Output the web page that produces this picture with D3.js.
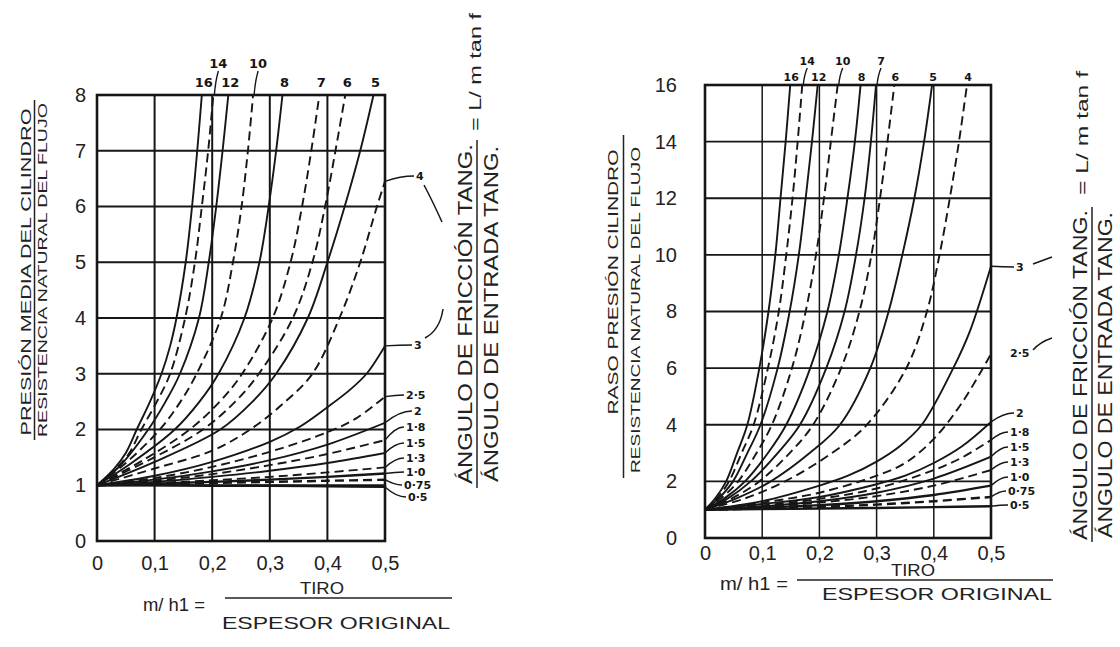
<!DOCTYPE html>
<html><head><meta charset="utf-8">
<script src="https://cdn.jsdelivr.net/npm/d3@7"></script>
<style>
html,body{margin:0;padding:0;background:#fff;}
svg{display:block;font-family:"Liberation Sans",Arial,sans-serif;}
</style></head><body>
<svg id="chart" width="1120" height="647"></svg>
<script>
// ---------- data ----------
const xTicks = [0, 0.1, 0.2, 0.3, 0.4, 0.5];
const xTickLabels = ["0", "0,1", "0,2", "0,3", "0,4", "0,5"];
const meanTicks = [0, 1, 2, 3, 4, 5, 6, 7, 8];
const peakTicks = [0, 2, 4, 6, 8, 10, 12, 14, 16];

// friction / entry angle ratio for each curve
const curveParams = ["16","14","12","10","8","7","6","5","4","3","2·5","2","1·8","1·5","1·3","1·0","0·75","0·5"];
const meanDashed = [0,1,0,1,0,1,1,0,1,0,1,0,1,0,1,0,1,0];
const peakDashed = [0,1,0,1,0,0,1,0,1,0,1,0,1,0,1,0,1,0];

// mean roll pressure / flow stress vs draft ratio  [m/h1, p]
const m16 = [[0,1],[0.03,1.3],[0.05,1.58],[0.069,2],[0.092,2.5],[0.112,3],[0.127,3.5],[0.138,4],[0.154,5],[0.165,6],[0.174,7],[0.182,8]];
const m14 = [[0,1],[0.03,1.27],[0.055,1.56],[0.077,2],[0.104,2.5],[0.127,3],[0.153,4],[0.17,5],[0.182,6],[0.193,7],[0.202,8]];
const m12 = [[0,1],[0.04,1.35],[0.089,2],[0.119,2.5],[0.144,3],[0.177,4],[0.194,5],[0.207,6],[0.218,7],[0.228,8]];
const m10 = [[0,1],[0.05,1.4],[0.109,2],[0.145,2.5],[0.173,3],[0.215,4],[0.236,5],[0.251,6],[0.262,7],[0.271,8]];
const m8 = [[0,1],[0.06,1.4],[0.135,2],[0.178,2.5],[0.211,3],[0.256,4],[0.282,5],[0.298,6],[0.311,7],[0.322,8]];
const m7 = [[0,1],[0.08,1.45],[0.161,2],[0.213,2.5],[0.252,3],[0.305,4],[0.336,5],[0.356,6],[0.372,7],[0.386,8]];
const m6 = [[0,1],[0.09,1.45],[0.184,2],[0.24,2.5],[0.281,3],[0.34,4],[0.374,5],[0.396,6],[0.414,7],[0.431,8]];
const m5 = [[0,1],[0.1,1.42],[0.214,2],[0.27,2.5],[0.311,3],[0.366,4],[0.4,5],[0.43,6],[0.457,7],[0.48,8]];
const m4 = [[0,1],[0.1,1.3],[0.2,1.62],[0.266,2],[0.327,2.5],[0.374,3],[0.421,4],[0.457,5],[0.486,6],[0.5,6.45]];
const m3 = [[0,1],[0.1,1.17],[0.2,1.42],[0.3,1.78],[0.352,2.05],[0.4,2.4],[0.44,2.72],[0.468,3],[0.5,3.5]];
const m2_5 = [[0,1],[0.1,1.13],[0.2,1.33],[0.3,1.6],[0.4,1.95],[0.45,2.2],[0.5,2.59]];
const m2 = [[0,1],[0.1,1.1],[0.2,1.25],[0.3,1.45],[0.4,1.73],[0.5,2.12]];
const m1_8 = [[0,1],[0.1,1.08],[0.2,1.2],[0.3,1.36],[0.4,1.56],[0.5,1.81]];
const m1_5 = [[0,1],[0.1,1.06],[0.2,1.15],[0.3,1.26],[0.4,1.4],[0.5,1.58]];
const m1_3 = [[0,1],[0.1,1.04],[0.2,1.09],[0.3,1.15],[0.4,1.23],[0.5,1.32]];
const m1_0 = [[0,1],[0.1,1.03],[0.2,1.06],[0.3,1.1],[0.4,1.15],[0.5,1.21]];
const m0_75 = [[0,1],[0.1,1.02],[0.2,1.04],[0.3,1.06],[0.4,1.08],[0.5,1.1]];
const m0_5 = [[0,1],[0.1,1.0],[0.2,0.99],[0.3,0.99],[0.4,0.98],[0.5,0.97]];

// peak roll pressure / flow stress vs draft ratio  [m/h1, p]
const p16 = [[0,1],[0.018,1.4],[0.037,2],[0.056,3],[0.074,4],[0.095,6],[0.111,8],[0.123,10],[0.132,12],[0.141,14],[0.149,16]];
const p14 = [[0,1],[0.021,1.4],[0.042,2],[0.064,3],[0.085,4],[0.11,6],[0.129,8],[0.142,10],[0.153,12],[0.162,14],[0.17,16]];
const p12 = [[0,1],[0.024,1.4],[0.049,2],[0.074,3],[0.097,4],[0.127,6],[0.148,8],[0.164,10],[0.176,12],[0.187,14],[0.197,16]];
const p10 = [[0,1],[0.028,1.4],[0.058,2],[0.09,3],[0.117,4],[0.152,6],[0.176,8],[0.194,10],[0.208,12],[0.22,14],[0.232,16]];
const p8 = [[0,1],[0.034,1.4],[0.07,2],[0.11,3],[0.142,4],[0.184,6],[0.214,8],[0.234,10],[0.249,12],[0.262,14],[0.272,16]];
const p7 = [[0,1],[0.04,1.4],[0.08,2],[0.127,3],[0.166,4],[0.212,6],[0.244,8],[0.264,10],[0.279,12],[0.29,14],[0.299,16]];
const p6 = [[0,1],[0.047,1.4],[0.095,2],[0.148,3],[0.189,4],[0.238,6],[0.27,8],[0.291,10],[0.306,12],[0.319,14],[0.331,16]];
const p5 = [[0,1],[0.055,1.4],[0.115,2],[0.183,3],[0.236,4],[0.289,6],[0.321,8],[0.345,10],[0.366,12],[0.383,14],[0.397,16]];
const p4 = [[0,1],[0.07,1.4],[0.14,2],[0.222,3],[0.283,4],[0.352,6],[0.388,8],[0.41,10],[0.428,12],[0.444,14],[0.458,16]];
const p3 = [[0,1],[0.1,1.3],[0.2,1.85],[0.25,2.2],[0.3,2.7],[0.341,3.25],[0.379,4],[0.434,6],[0.463,7.3],[0.5,9.6]];
const p2_5 = [[0,1],[0.1,1.25],[0.2,1.6],[0.3,2.2],[0.35,2.65],[0.4,3.5],[0.45,4.8],[0.5,6.5]];
const p2 = [[0,1],[0.1,1.2],[0.2,1.45],[0.3,1.9],[0.35,2.2],[0.4,2.65],[0.45,3.25],[0.5,4.1]];
const p1_8 = [[0,1],[0.1,1.15],[0.2,1.38],[0.3,1.75],[0.4,2.4],[0.45,2.85],[0.5,3.46]];
const p1_5 = [[0,1],[0.1,1.12],[0.2,1.3],[0.3,1.6],[0.4,2.1],[0.5,2.87]];
const p1_3 = [[0,1],[0.1,1.1],[0.2,1.25],[0.3,1.48],[0.4,1.85],[0.5,2.4]];
const p1_0 = [[0,1],[0.1,1.07],[0.2,1.16],[0.3,1.3],[0.4,1.52],[0.5,1.85]];
const p0_75 = [[0,1],[0.1,1.04],[0.2,1.1],[0.3,1.18],[0.4,1.3],[0.5,1.45]];
const p0_5 = [[0,1],[0.1,1.02],[0.2,1.04],[0.3,1.06],[0.4,1.09],[0.5,1.12]];

const meanCurves = [m16,m14,m12,m10,m8,m7,m6,m5,m4,m3,m2_5,m2,m1_8,m1_5,m1_3,m1_0,m0_75,m0_5];
const peakCurves = [p16,p14,p12,p10,p8,p7,p6,p5,p4,p3,p2_5,p2,p1_8,p1_5,p1_3,p1_0,p0_75,p0_5];

// ---------- drawing ----------
const svg = d3.select("#chart");
const ink = "#161616";
const defs = svg.append("defs");

function panel(cfg) {
  const {x, y, id} = cfg;
  const yMax = cfg.yTicks[cfg.yTicks.length - 1];
  const g = svg.append("g");
  const x0 = x(0), x1 = x(0.5), yb = y(0), yt = y(yMax);

  defs.append("clipPath").attr("id", id).append("rect")
    .attr("x", x0).attr("y", yt).attr("width", x1 - x0).attr("height", yb - yt);

  // grid
  g.selectAll(null).data(cfg.xTicks.slice(1, -1)).join("line")
    .attr("x1", d => x(d)).attr("x2", d => x(d)).attr("y1", yb).attr("y2", yt)
    .attr("stroke", ink).attr("stroke-width", cfg.vGrid);
  g.selectAll(null).data(cfg.yTicks.slice(1, -1)).join("line")
    .attr("y1", d => y(d)).attr("y2", d => y(d)).attr("x1", x0).attr("x2", x1)
    .attr("stroke", ink).attr("stroke-width", cfg.hGrid);

  // curves
  const line = d3.line().x(d => x(d[0])).y(d => y(d[1])).curve(d3.curveCatmullRom.alpha(0.5));
  g.append("g").attr("clip-path", `url(#${id})`)
    .selectAll("path").data(cfg.curves).join("path")
    .attr("d", line).attr("fill", "none").attr("stroke", ink)
    .attr("stroke-width", (d, i) => i >= 15 ? 2.4 : 1.9)
    .attr("stroke-dasharray", (d, i) => cfg.dashed[i] ? "9,5" : null);

  // frame
  g.append("rect").attr("x", x0).attr("y", yt).attr("width", x1 - x0).attr("height", yb - yt)
    .attr("fill", "none").attr("stroke", ink).attr("stroke-width", 2.6);

  // axes
  const ya = g.append("g").attr("transform", `translate(${x0},0)`)
    .call(d3.axisLeft(y).tickValues(cfg.yTicks).tickSize(0).tickPadding(cfg.yPad).tickFormat(d3.format("d")));
  const xa = g.append("g").attr("transform", `translate(0,${yb})`)
    .call(d3.axisBottom(x).tickValues(cfg.xTicks).tickSize(0).tickPadding(cfg.xPad)
      .tickFormat((d, i) => xTickLabels[i]));
  [ya, xa].forEach(a => {
    a.select(".domain").remove();
    a.selectAll("text").attr("font-size", 20).attr("fill", "#222")
      .attr("font-family", "'Liberation Sans', Arial, sans-serif");
  });

  // curve labels along the top edge
  const lab = g.append("g").attr("font-weight", "bold").attr("fill", ink)
    .attr("font-family", "'DejaVu Sans', sans-serif").attr("text-anchor", "middle");
  cfg.topIdx.forEach(i => {
    const c = cfg.curves[i];
    const end = c[c.length - 1];
    const up = cfg.upper.includes(i);
    const lx = x(end[0]) + (up ? cfg.upDx : cfg.lowDx);
    const by = up ? cfg.upBase : cfg.lowBase;
    lab.append("text").attr("x", lx).attr("y", by).attr("font-size", cfg.topFont).text(curveParams[i]);
    if (up) {
      g.append("path").attr("d", `M${x(end[0]) + 1},${yt} Q${lx - 3},${(yt + by) / 2} ${lx},${by + 3}`)
        .attr("fill", "none").attr("stroke", ink).attr("stroke-width", 1.4);
    }
  });

  // curve labels beside the right edge, with leaders
  cfg.sideIdx.forEach((i, k) => {
    const c = cfg.curves[i];
    const end = c[c.length - 1];
    const ly = cfg.sideY[k], lx = cfg.sideX[k];
    lab.append("text").attr("x", lx).attr("y", ly + 4).attr("text-anchor", "start")
      .attr("font-size", cfg.sideFont).text(curveParams[i]);
    if (!cfg.noLeader.includes(i)) {
      const ey = y(end[1]);
      g.append("path").attr("d", `M${x1},${ey} Q${(x1 + lx) / 2},${ly} ${lx - 2},${ly}`)
        .attr("fill", "none").attr("stroke", ink).attr("stroke-width", 1.4);
    }
  });
  return g;
}

const xL = d3.scaleLinear().domain([0, 0.5]).range([97, 385]);
const yL = d3.scaleLinear().domain([0, 8]).range([541, 95]);
const xR = d3.scaleLinear().domain([0, 0.5]).range([705, 991]);
const yR = d3.scaleLinear().domain([0, 16]).range([538, 85]);

panel({
  id: "clipMean", x: xL, y: yL, xTicks, yTicks: meanTicks, curves: meanCurves, dashed: meanDashed,
  vGrid: 2, hGrid: 2, yPad: 11, xPad: 15,
  topIdx: [0,1,2,3,4,5,6,7], upper: [1,3], lowDx: 2, upDx: 5, lowBase: 87, upBase: 68, topFont: 13,
  sideIdx: [8,9,10,11,12,13,14,15,16,17],
  sideY: [176, 345, 395, 411, 427, 443, 458, 472, 485, 497],
  sideX: [416, 414, 406, 414, 406, 406, 406, 406, 404, 408],
  noLeader: [], sideFont: 11
});

panel({
  id: "clipPeak", x: xR, y: yR, xTicks, yTicks: peakTicks, curves: peakCurves, dashed: peakDashed,
  vGrid: 1.5, hGrid: 1.9, yPad: 28, xPad: 8,
  topIdx: [0,1,2,3,4,5,6,7,8], upper: [1,3,5], lowDx: 1, upDx: 5, lowBase: 81, upBase: 65, topFont: 11,
  sideIdx: [9,10,11,12,13,14,15,16,17],
  sideY: [267, 353, 413, 432, 447, 462, 477, 491, 505],
  sideX: [1016, 1010, 1016, 1010, 1010, 1010, 1010, 1008, 1010],
  noLeader: [10], sideFont: 11
});

// extra pointer strokes from the curve labels toward the parameter title
const ptr = svg.append("g").attr("fill", "none").attr("stroke", ink).attr("stroke-width", 1.5);
ptr.append("path").attr("d", "M424,185 Q432,200 442,222");
ptr.append("path").attr("d", "M425,338 Q440,330 443,309");
ptr.append("path").attr("d", "M1033,264 L1052,257");
ptr.append("path").attr("d", "M1033,350 Q1040,342 1052,338");

// rotated titles
function vtext(x, y, txt, size, len) {
  svg.append("text").attr("transform", `translate(${x},${y}) rotate(-90)`)
    .attr("text-anchor", "middle").attr("font-size", size).attr("fill", "#222")
    .attr("textLength", len).attr("lengthAdjust", "spacingAndGlyphs").text(txt);
}
function rule(x1, y1, x2, y2, w) {
  svg.append("line").attr("x1", x1).attr("y1", y1).attr("x2", x2).attr("y2", y2)
    .attr("stroke", "#222").attr("stroke-width", w || 1.5);
}

// left panel y title
vtext(31, 272, "PRESIÓN MEDIA DEL CILINDRO", 15, 327);
rule(34.5, 100, 34.5, 440);
vtext(47, 270, "RESISTENCIA NATURAL DEL FLUJO", 12.5, 334);

// right panel y title
vtext(618, 282, "RASO PRESIÓN CILINDRO", 14, 265);
rule(623.5, 135, 623.5, 478);
vtext(640, 310, "RESISTENCIA NATURAL DEL FLUJO", 12.5, 326);

// parameter titles
vtext(472, 314, "ÁNGULO DE FRICCIÓN TANG.", 21, 340);
rule(477, 140, 477, 488);
vtext(498, 314, "ÁNGULO DE ENTRADA TANG.", 21, 336);
vtext(481, 72, "= L/ m tan f", 17, 118);

vtext(1087, 375, "ÁNGULO DE FRICCIÓN TANG.", 21, 330);
rule(1092, 207, 1092, 542);
vtext(1112, 375, "ÁNGULO DE ENTRADA TANG.", 21, 326);
vtext(1088, 133, "= L/ m tan f", 17, 124);

// x titles
function htext(x, y, txt, size, len, anchor) {
  const t = svg.append("text").attr("x", x).attr("y", y).attr("font-size", size).attr("fill", "#222")
    .attr("text-anchor", anchor || "middle").text(txt);
  if (len) t.attr("textLength", len).attr("lengthAdjust", "spacingAndGlyphs");
}
htext(143, 611, "m/ h1 =", 18, 62, "start");
htext(322, 594, "TIRO", 16, 44);
rule(225, 598, 452, 598);
htext(336, 629, "ESPESOR ORIGINAL", 17, 228);

htext(720, 590, "m/ h1 =", 18, 68, "start");
htext(913, 576, "TIRO", 16, 44);
rule(797, 580, 1053, 580);
htext(937, 600, "ESPESOR ORIGINAL", 17, 230);
</script>
</body></html>
